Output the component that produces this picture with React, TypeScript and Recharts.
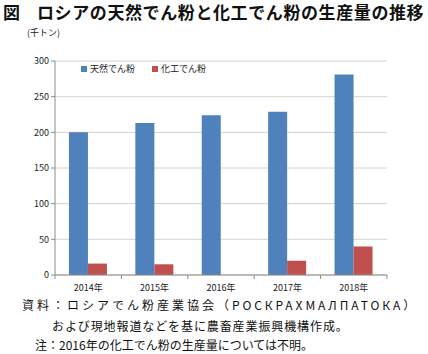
import React from 'react';
import { BarChart, Bar, XAxis, YAxis, CartesianGrid, Legend } from 'recharts';

const years = ['2014年', '2015年', '2016年', '2017年', '2018年'];
const natural = [200, 213, 224, 229, 281];
const modified = [16, 15, null, 20, 40];
const yTicks = [0, 50, 100, 150, 200, 250, 300];

const BLUE = '#4f81bd';
const RED = '#c0504d';
const FONT = '"Noto Sans CJK JP", "Noto Sans", sans-serif';

const data = years.map((year, i) => ({ year, natural: natural[i], modified: modified[i] }));
const legendItems = [
  { label: '天然でん粉', color: BLUE },
  { label: '化工でん粉', color: RED },
];

const CHART_W = 428;
const CHART_H = 300;
const PLOT_LEFT = 55;
const PLOT_RIGHT = 41;
const BAND = (CHART_W - PLOT_LEFT - PLOT_RIGHT) / years.length;

const YearTick = (props: any) => {
  const { x, y, payload, index } = props;
  const left = x - BAND / 2;
  return (
    <g>
      <line x1={left} y1={y - 8} x2={left} y2={y - 4} stroke="#8c8c8c" />
      {index === years.length - 1 && (
        <line x1={left + BAND} y1={y - 8} x2={left + BAND} y2={y - 4} stroke="#8c8c8c" />
      )}
      <text x={x} y={y + 8} textAnchor="middle" fontSize={9} fill="#222" fontFamily={FONT}>
        {payload.value}
      </text>
    </g>
  );
};

// fixed order, recharts sorts the payload otherwise
const LegendBox = () => (
  <div style={{ display: 'flex', fontFamily: FONT, fontSize: 9, color: '#222' }}>
    {legendItems.map((it) => (
      <div key={it.label} style={{ display: 'flex', alignItems: 'center', marginRight: 17 }}>
        <span style={{ width: 6, height: 6, background: it.color, marginRight: 3, display: 'inline-block' }} />
        {it.label}
      </div>
    ))}
  </div>
);

export default function App() {
  return (
    <div style={{ position: 'absolute', left: 0, top: 0, width: 428, height: 354, background: '#fff', fontFamily: FONT }}>
      <div style={{ position: 'absolute', left: 3, top: 1, fontSize: 17, fontWeight: 700, color: '#111', lineHeight: '22px' }}>図</div>
      <div style={{ position: 'absolute', left: 37, top: 1, fontSize: 17, fontWeight: 700, color: '#111', lineHeight: '22px', letterSpacing: 0.6, whiteSpace: 'nowrap' }}>
        ロシアの天然でん粉と化工でん粉の生産量の推移
      </div>
      <div style={{ position: 'absolute', left: 27, top: 27, fontSize: 9, color: '#222', lineHeight: '12px' }}>(千トン)</div>
      <div style={{ position: 'absolute', left: 0, top: 0 }}>
        <BarChart
          width={CHART_W}
          height={CHART_H}
          data={data}
          margin={{ top: 48, right: PLOT_RIGHT, left: 0, bottom: 5 }}
          barGap={0}
          barCategoryGap="21%"
        >
          <CartesianGrid vertical={false} stroke="#d4d4d4" />
          <XAxis
            dataKey="year"
            stroke="#8c8c8c"
            tickLine={false}
            tick={<YearTick />}
            height={20}
            interval={0}
          />
          <YAxis
            domain={[0, 300]}
            ticks={yTicks}
            width={PLOT_LEFT}
            stroke="#8c8c8c"
            tickSize={4}
            tick={{ fontSize: 9, fill: '#222', fontFamily: FONT }}
          />
          <Legend
            content={<LegendBox />}
            verticalAlign="top"
            wrapperStyle={{ position: 'absolute', left: 81, top: 62, width: 200 }}
          />
          <Bar dataKey="natural" name="天然でん粉" fill={BLUE} isAnimationActive={false} />
          <Bar dataKey="modified" name="化工でん粉" fill={RED} isAnimationActive={false} />
        </BarChart>
      </div>
      <div style={{ position: 'absolute', left: 22, top: 297, fontSize: 12, color: '#111', lineHeight: '16px', whiteSpace: 'nowrap', letterSpacing: 3 }}>
        資料：ロシアでん粉産業協会（<span style={{ letterSpacing: 2.9 }}>РОСКРАХМАЛПАТОКА</span>）
      </div>
      <div style={{ position: 'absolute', left: 52, top: 318, fontSize: 12, color: '#111', lineHeight: '16px', whiteSpace: 'nowrap', letterSpacing: 0.9 }}>
        および現地報道などを基に農畜産業振興機構作成。
      </div>
      <div style={{ position: 'absolute', left: 35, top: 337, fontSize: 12, color: '#111', lineHeight: '16px', whiteSpace: 'nowrap', letterSpacing: 0 }}>
        注：2016年の化工でん粉の生産量については不明。
      </div>
    </div>
  );
}
